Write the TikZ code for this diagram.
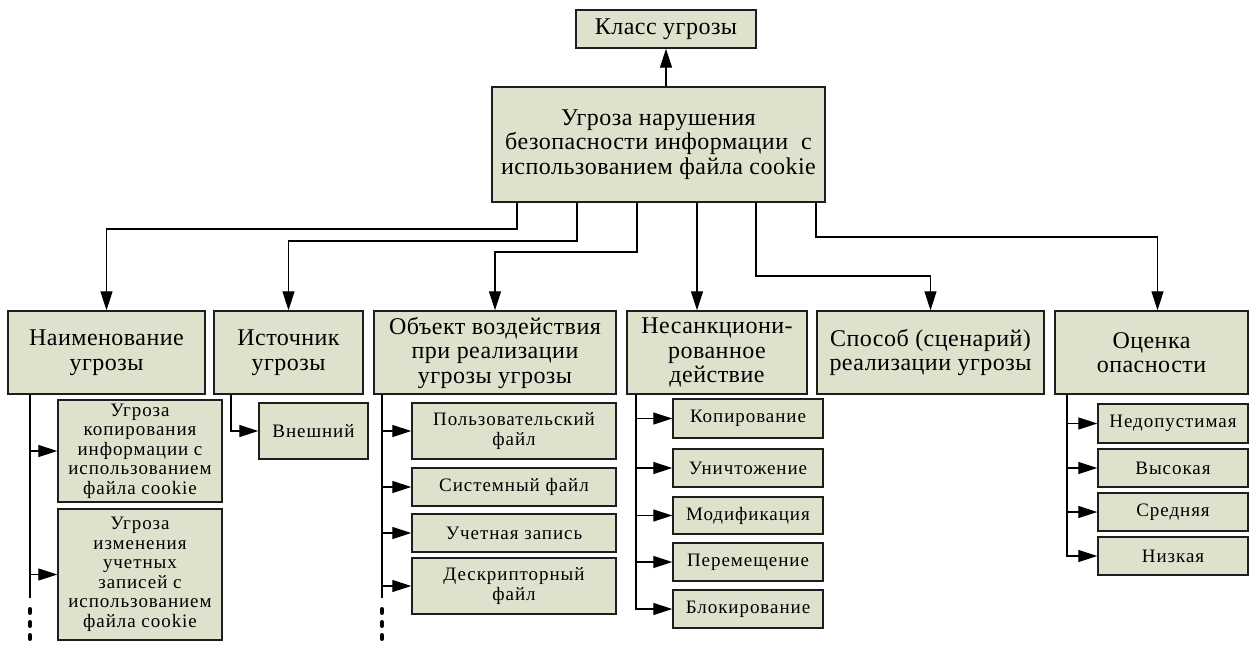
\documentclass[tikz,border=0pt]{standalone}
\usepackage{fontspec}
\setmainfont{Liberation Serif}
\usetikzlibrary{arrows.meta}
\definecolor{boxfill}{RGB}{222,226,204}
\definecolor{edge}{RGB}{30,30,30}
\tikzset{
  box/.style={draw=edge, line width=1.4pt, fill=boxfill, inner sep=1pt, align=center, font=\fontsize{24}{24.5}\selectfont\addfontfeature{LetterSpace=2}},
  sbox/.style={box, font=\fontsize{19}{19.5}\selectfont\addfontfeature{LetterSpace=5}},
  conn/.style={draw=black, line width=1.2pt},
  arr/.style={conn, -{Triangle[length=19pt,width=12pt]}},
  dot/.style={line width=4pt, line cap=round}
}
\newcommand\bx[7]{%
  \pgfmathsetmacro\bw{#4-#2}\pgfmathsetmacro\bh{#5-#3}%
  \node[#6, minimum width=\bw pt, minimum height=\bh pt] (#1) at ({(#2+#4)/2},{(#3+#5)/2}) {#7};}
\begin{document}
\begin{tikzpicture}[x=1pt,y=-1pt]
\useasboundingbox (0,0) rectangle (1250,646);
% top
\bx{klass}{576}{10}{756}{48}{box}{Класс угрозы}
\bx{main}{492}{87}{825}{202}{box}{Угроза нарушения\\безопасности информации \ с\\использованием файла cookie}
% level 2
\bx{naim}{8}{311}{205}{394}{box}{Наименование\\угрозы}
\bx{ist}{214}{311}{363}{394}{box}{Источник\\угрозы}
\bx{obj}{374}{311}{616}{394}{box}{Объект воздействия\\при реализации\\угрозы угрозы}
\bx{nes}{627}{311}{807}{394}{box}{Несанкциони-\\рованное\\действие}
\bx{spos}{817}{311}{1044}{394}{box}{Способ (сценарий)\\реализации угрозы}
\bx{ocen}{1055}{311}{1248}{394}{box}{Оценка\\опасности}
% children
\bx{n1}{58}{400}{222}{502}{sbox}{Угроза\\копирования\\информации с\\использованием\\файла cookie}
\bx{n2}{58}{509}{222}{640}{sbox}{Угроза\\изменения\\учетных\\записей с\\использованием\\файла cookie}
\bx{vn}{259}{403}{368}{459}{sbox}{Внешний}
\bx{o1}{412}{403}{616}{459}{sbox}{Пользовательский\\файл}
\bx{o2}{412}{468}{616}{506}{sbox}{Системный файл}
\bx{o3}{412}{514}{616}{552}{sbox}{Учетная запись}
\bx{o4}{412}{558}{616}{614}{sbox}{Дескрипторный\\файл}
\bx{d1}{673}{399}{823}{438}{sbox}{Копирование}
\bx{d2}{673}{449}{823}{487}{sbox}{Уничтожение}
\bx{d3}{673}{497}{823}{534}{sbox}{Модификация}
\bx{d4}{673}{543}{823}{581}{sbox}{Перемещение}
\bx{d5}{673}{590}{823}{628}{sbox}{Блокирование}
\bx{c1}{1098}{404}{1248}{443}{sbox}{Недопустимая}
\bx{c2}{1098}{449}{1248}{487}{sbox}{Высокая}
\bx{c3}{1098}{493}{1248}{531}{sbox}{Средняя}
\bx{c4}{1098}{537}{1248}{575}{sbox}{Низкая}
% main to class
\draw[arr] (klass.south |- main.north) -- (klass.south);
% stubs
\coordinate (s1) at (517,202);
\coordinate (s2) at (577,202);
\coordinate (s3) at (637,202);
\coordinate (s4) at (697,202);
\coordinate (s5) at (756,202);
\coordinate (s6) at (816,202);
\draw[arr] (s1) -- ++(0,27) -| (naim.north);
\draw[arr] (s2) -- ++(0,39) -| (ist.north);
\draw[arr] (s3) -- ++(0,50) -| (obj.north);
\draw[arr] (s4) -- (s4 |- nes.north);
\draw[arr] (s5) -- ++(0,74) -| (spos.north);
\draw[arr] (s6) -- ++(0,35) -| ([xshift=6pt]ocen.north);
% naim children
\coordinate (nt) at (30,394);
\draw[conn] (nt) -- (30,598);
\draw[arr] (nt |- n1.west) -- (n1.west);
\draw[arr] (nt |- n2.west) -- (n2.west);
\draw[dot] (30,609) -- (30,613);
\draw[dot] (30,622) -- (30,626);
\draw[dot] (30,635) -- (30,639);
% ist child
\coordinate (it) at (231,394);
\draw[arr] (it) |- (vn.west);
% obj children
\coordinate (ot) at (382,394);
\draw[conn] (ot) -- (382,598);
\draw[arr] (ot |- o1.west) -- (o1.west);
\draw[arr] (ot |- o2.west) -- (o2.west);
\draw[arr] (ot |- o3.west) -- (o3.west);
\draw[arr] (ot |- o4.west) -- (o4.west);
\draw[dot] (382,609) -- (382,613);
\draw[dot] (382,622) -- (382,626);
\draw[dot] (382,635) -- (382,639);
% nes children
\coordinate (dt) at (636,394);
\draw[arr] (dt) |- (d5.west);
\draw[arr] (dt |- d1.west) -- (d1.west);
\draw[arr] (dt |- d2.west) -- (d2.west);
\draw[arr] (dt |- d3.west) -- (d3.west);
\draw[arr] (dt |- d4.west) -- (d4.west);
% ocen children
\coordinate (ct) at (1067,394);
\draw[arr] (ct) |- (c4.west);
\draw[arr] (ct |- c1.west) -- (c1.west);
\draw[arr] (ct |- c2.west) -- (c2.west);
\draw[arr] (ct |- c3.west) -- (c3.west);
\end{tikzpicture}
\end{document}
